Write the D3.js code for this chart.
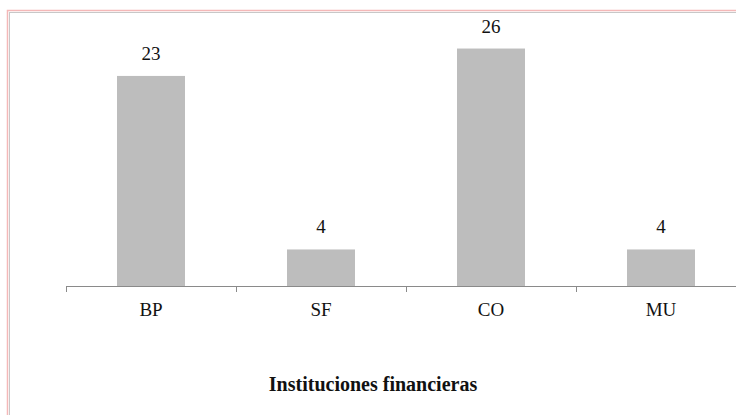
<!doctype html>
<html lang="es">
  <head>
    <meta charset="utf-8">
    <script src="https://d3js.org/d3.v7.min.js"></script>
    <style>
      body { margin: 0; background: #fff; }
    </style>
  </head>
  <body>
    <div class='vis'></div>
    <script>
      const categories = ['BP', 'SF', 'CO', 'MU'];
      const values = [23, 4, 26, 4];
      const yMax = 30;
      const axisTitle = 'Instituciones financieras';

      const w = 736;
      const h = 415;
      const serif = "'Liberation Serif', 'DejaVu Serif', serif";

      const svg = d3.select('.vis')
          .append('svg')
          .attr('width', w)
          .attr('height', h)

      // chart frame (pink outer, gray inner)
      svg.append('rect')
        .attr('x', 7.5).attr('y', 10.5)
        .attr('width', w).attr('height', h)
        .attr('fill', 'none')
        .attr('stroke', '#f4b8b8')
        .attr('stroke-width', 1.5)
      svg.append('rect')
        .attr('x', 9.5).attr('y', 12.5)
        .attr('width', w).attr('height', h)
        .attr('fill', 'none')
        .attr('stroke', '#c8c8c8')
        .attr('stroke-width', 1)

      const xScale = d3.scaleBand()
        .domain(categories)
        .range([66, 746])
        .paddingInner(0.6)
        .paddingOuter(0.3)

      const xTick = d3.scaleBand()
        .domain(categories)
        .range([66, 746])

      const yScale = d3.scaleLinear()
        .domain([0, yMax])
        .range([286, 12])

      // bars
      svg.selectAll('rect.bar')
        .data(values)
        .enter()
        .append('rect')
        .attr('class', 'bar')
        .attr('x', (d, i) => xScale(categories[i]))
        .attr('y', d => yScale(d))
        .attr('width', xScale.bandwidth())
        .attr('height', d => yScale(0) - yScale(d))
        .attr('fill', '#bdbdbd')

      // value labels
      svg.selectAll('text.val')
        .data(values)
        .enter()
        .append('text')
        .attr('class', 'val')
        .attr('x', (d, i) => xScale(categories[i]) + xScale.bandwidth() / 2)
        .attr('y', d => yScale(d) - 16)
        .attr('text-anchor', 'middle')
        .attr('font-family', serif)
        .attr('font-size', 19)
        .attr('fill', '#111')
        .text(d => d)

      // x axis: line, ticks at category boundaries, labels centred
      const axis = svg.append('g')
      axis.append('line')
        .attr('x1', 66).attr('x2', w)
        .attr('y1', 286.5).attr('y2', 286.5)
        .attr('stroke', '#8a8a8a')
      axis.selectAll('line.tick')
        .data(categories)
        .enter()
        .append('line')
        .attr('class', 'tick')
        .attr('x1', d => Math.round(xTick(d)) + 0.5)
        .attr('x2', d => Math.round(xTick(d)) + 0.5)
        .attr('y1', 286).attr('y2', 292)
        .attr('stroke', '#8a8a8a')
      axis.selectAll('text.cat')
        .data(categories)
        .enter()
        .append('text')
        .attr('class', 'cat')
        .attr('x', d => xTick(d) + xTick.bandwidth() / 2)
        .attr('y', 316)
        .attr('text-anchor', 'middle')
        .attr('font-family', serif)
        .attr('font-size', 19)
        .attr('fill', '#111')
        .text(d => d)

      // axis title
      svg.append('text')
        .attr('x', 373)
        .attr('y', 391)
        .attr('text-anchor', 'middle')
        .attr('font-family', serif)
        .attr('font-size', 20)
        .attr('font-weight', 'bold')
        .attr('fill', '#111')
        .text(axisTitle)
    </script>
  </body>
</html>
